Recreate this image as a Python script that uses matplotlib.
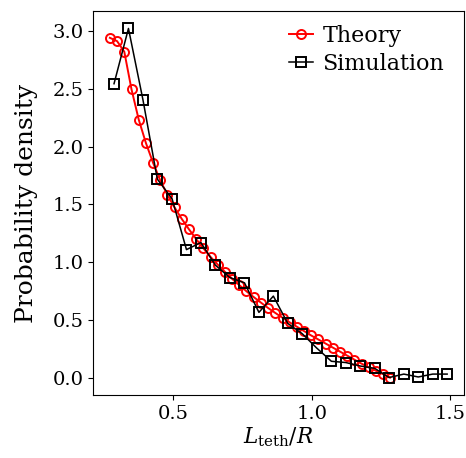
import matplotlib
matplotlib.use("Agg")
import matplotlib.pyplot as plt

plt.rcParams['font.family'] = ['DejaVu Serif']
plt.rcParams['mathtext.fontset'] = 'dejavuserif'

theory_x = [0.273, 0.299, 0.325, 0.351, 0.377, 0.403, 0.429, 0.454, 0.480, 0.506,
            0.532, 0.558, 0.584, 0.610, 0.636, 0.662, 0.688, 0.713, 0.739, 0.765,
            0.791, 0.817, 0.843, 0.869, 0.895, 0.921, 0.947, 0.973, 0.998, 1.024,
            1.050, 1.076, 1.102, 1.128, 1.154, 1.180, 1.206, 1.232, 1.257, 1.283]
theory_y = [2.945, 2.916, 2.824, 2.498, 2.236, 2.032, 1.859, 1.712, 1.585, 1.475,
            1.375, 1.285, 1.200, 1.120, 1.045, 0.978, 0.915, 0.856, 0.802, 0.748,
            0.698, 0.650, 0.603, 0.560, 0.518, 0.478, 0.440, 0.402, 0.365, 0.330,
            0.295, 0.260, 0.225, 0.190, 0.155, 0.120, 0.088, 0.058, 0.030, 0.000]

sim_x = [0.288, 0.340, 0.392, 0.444, 0.497, 0.549, 0.601, 0.653, 0.705, 0.758,
         0.810, 0.862, 0.914, 0.966, 1.018, 1.071, 1.123, 1.175, 1.227, 1.279,
         1.332, 1.384, 1.436, 1.488]
sim_y = [2.547, 3.026, 2.410, 1.720, 1.550, 1.109, 1.170, 0.974, 0.867, 0.821,
         0.565, 0.706, 0.469, 0.380, 0.256, 0.141, 0.130, 0.100, 0.080, 0.000,
         0.030, 0.005, 0.030, 0.030]

fig = plt.figure(figsize=(4.66, 4.58), dpi=100)
ax = fig.add_axes([93/466, 1 - 395/458, (464-93)/466, (395-11)/458])

ax.plot(theory_x, theory_y, color='red', marker='o', mfc='none', mec='red',
        markersize=6.5, mew=1.4, lw=1.4, label='Theory')
ax.plot(sim_x, sim_y, color='black', marker='s', mfc='none', mec='black',
        markersize=7, mew=1.4, lw=1.1, label='Simulation')

ax.set_xticks([0.5, 1.0, 1.5])
ax.set_yticks([0.0, 0.5, 1.0, 1.5, 2.0, 2.5, 3.0])
ax.tick_params(labelsize=14)
ax.set_xlabel(r'$L_\mathrm{teth}/R$', fontsize=15.5, labelpad=2)
ax.set_ylabel('Probability density', fontsize=18, labelpad=10)
ax.legend(loc='upper right', bbox_to_anchor=(1.0, 1.015), frameon=False,
          fontsize=16, handlelength=1.1, numpoints=1, handletextpad=0.4,
          labelspacing=0.25)

fig.savefig('out.png', dpi=100)
